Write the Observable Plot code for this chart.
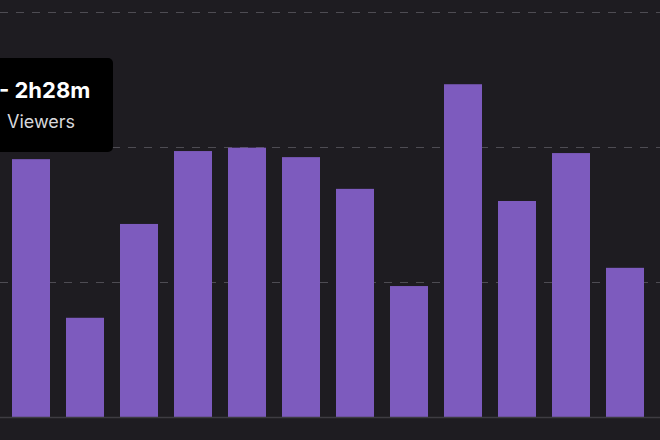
<!DOCTYPE html>
<html>
<head>
<meta charset="utf-8">
<script src="https://cdn.jsdelivr.net/npm/d3@7"></script>
<script src="https://cdn.jsdelivr.net/npm/@observablehq/plot@0.6"></script>
<style>
html, body { margin: 0; padding: 0; background: #1e1c21; overflow: hidden; }
#wrap { position: relative; width: 660px; height: 440px; overflow: hidden; }
#tip { position: absolute; left: -60px; top: 58px; width: 173px; height: 94px; background: #000; border-radius: 5px; font-family: Inter, Roboto, "Liberation Sans", sans-serif; }
#tip .t1 { position: absolute; left: 59px; top: 21px; color: #fff; font-weight: bold; font-size: 22px; line-height: 1; }
#tip .t2 { position: absolute; left: 67px; top: 55px; color: #d8d8dc; font-size: 18px; line-height: 1; }
</style>
</head>
<body>
<div id="wrap"></div>
<script>
const streams = ["S1","S2","S3","S4","S5","S6","S7","S8","S9","S10","S11","S12"];
const viewers = [38.2, 14.7, 28.6, 39.4, 39.9, 38.5, 33.8, 19.4, 49.3, 32.0, 39.1, 22.1];
const gridTicks = [20, 40, 60];
const tipTitle = "- 2h28m";
const tipLabel = "Viewers";

const data = streams.map((s, i) => ({stream: s, value: viewers[i]}));

const chart = Plot.plot({
  width: 660,
  height: 440,
  marginTop: 12,
  marginBottom: 23,
  marginLeft: 0,
  marginRight: 0,
  style: {background: "#1e1c21"},
  x: {domain: streams, range: [-4, 660], padding: 0.296, axis: null},
  y: {domain: [0, 60], axis: null},
  marks: [
    Plot.ruleY(gridTicks, {stroke: "#4e4c53", strokeDasharray: "8,8", strokeWidth: 1}),
    Plot.barY(data, {x: "stream", y: "value", fill: "#7d5bbe"}),
    Plot.ruleY([0], {stroke: "#3e3c42", strokeWidth: 1.5})
  ]
});
const wrap = document.getElementById("wrap");
wrap.appendChild(chart);
const tip = document.createElement("div");
tip.id = "tip";
tip.innerHTML = `<span class="t1"></span><span class="t2"></span>`;
tip.querySelector(".t1").textContent = tipTitle;
tip.querySelector(".t2").textContent = tipLabel;
wrap.appendChild(tip);
</script>
</body>
</html>
